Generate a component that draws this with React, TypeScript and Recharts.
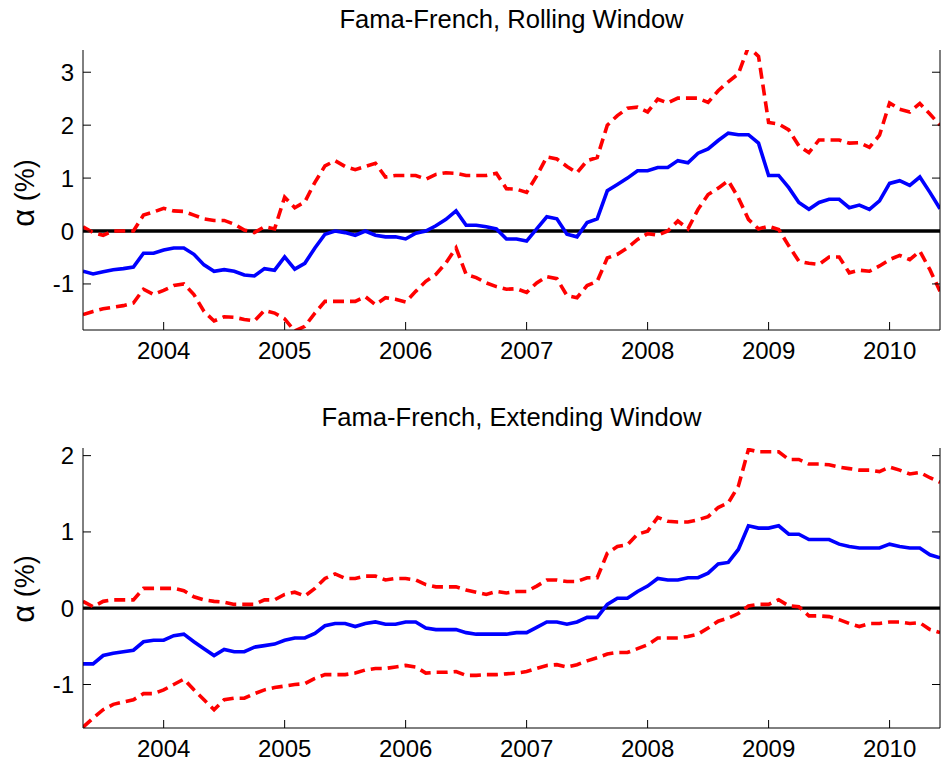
import React from 'react';
import { LineChart, Line, XAxis, YAxis, ReferenceLine } from 'recharts';

const FONT = '"Liberation Sans", Arial, Helvetica, sans-serif';

const months = [
  '2003-05', '2003-06', '2003-07', '2003-08', '2003-09', '2003-10', '2003-11', '2003-12',
  '2004-01', '2004-02', '2004-03', '2004-04', '2004-05', '2004-06', '2004-07', '2004-08', '2004-09', '2004-10', '2004-11', '2004-12',
  '2005-01', '2005-02', '2005-03', '2005-04', '2005-05', '2005-06', '2005-07', '2005-08', '2005-09', '2005-10', '2005-11', '2005-12',
  '2006-01', '2006-02', '2006-03', '2006-04', '2006-05', '2006-06', '2006-07', '2006-08', '2006-09', '2006-10', '2006-11', '2006-12',
  '2007-01', '2007-02', '2007-03', '2007-04', '2007-05', '2007-06', '2007-07', '2007-08', '2007-09', '2007-10', '2007-11', '2007-12',
  '2008-01', '2008-02', '2008-03', '2008-04', '2008-05', '2008-06', '2008-07', '2008-08', '2008-09', '2008-10', '2008-11', '2008-12',
  '2009-01', '2009-02', '2009-03', '2009-04', '2009-05', '2009-06', '2009-07', '2009-08', '2009-09', '2009-10', '2009-11', '2009-12',
  '2010-01', '2010-02', '2010-03', '2010-04', '2010-05', '2010-06',
];

// Rolling window: alpha estimate and confidence bounds (%)
const rollMid = [
  -0.76, -0.81, -0.77, -0.73, -0.71, -0.68, -0.42, -0.42,
  -0.36, -0.32, -0.32, -0.44, -0.64, -0.76, -0.73, -0.76, -0.83, -0.85, -0.71, -0.74,
  -0.49, -0.72, -0.61, -0.32, -0.06, 0.0, -0.03, -0.08, 0.0, -0.08, -0.11, -0.11,
  -0.15, -0.04, 0.0, 0.1, 0.22, 0.38, 0.11, 0.11, 0.08, 0.04, -0.15, -0.15,
  -0.19, 0.04, 0.27, 0.23, -0.06, -0.11, 0.16, 0.23, 0.76, 0.88, 1.0, 1.14,
  1.14, 1.2, 1.2, 1.33, 1.29, 1.47, 1.55, 1.71, 1.85, 1.82, 1.82, 1.66,
  1.05, 1.05, 0.82, 0.54, 0.41, 0.54, 0.6, 0.6, 0.44, 0.49, 0.41, 0.57,
  0.9, 0.95, 0.86, 1.02, 0.73, 0.42,
];
const rollHi = [
  0.08, -0.03, -0.08, 0.0, 0.0, 0.0, 0.3, 0.36,
  0.43, 0.38, 0.37, 0.3, 0.23, 0.2, 0.2, 0.13, 0.02, -0.03, 0.08, 0.04,
  0.64, 0.44, 0.55, 0.92, 1.23, 1.33, 1.22, 1.16, 1.22, 1.28, 1.02, 1.05,
  1.05, 1.05, 0.98, 1.07, 1.1, 1.09, 1.05, 1.05, 1.05, 1.09, 0.8, 0.79,
  0.73, 1.04, 1.4, 1.36, 1.22, 1.1, 1.33, 1.39, 2.0, 2.18, 2.32, 2.34,
  2.25, 2.49, 2.42, 2.51, 2.51, 2.51, 2.43, 2.65, 2.82, 2.97, 3.48, 3.3,
  2.05, 2.02, 1.91, 1.61, 1.48, 1.72, 1.72, 1.72, 1.66, 1.67, 1.58, 1.81,
  2.42, 2.3, 2.25, 2.41, 2.21, 2.0,
];
const rollLo = [
  -1.58, -1.52, -1.47, -1.44, -1.41, -1.36, -1.1, -1.2,
  -1.12, -1.03, -1.0, -1.2, -1.52, -1.7, -1.62, -1.63, -1.67, -1.7, -1.5, -1.55,
  -1.66, -1.89, -1.8, -1.55, -1.33, -1.33, -1.33, -1.33, -1.24, -1.39, -1.26, -1.29,
  -1.34, -1.14, -0.95, -0.82, -0.6, -0.32, -0.82, -0.88, -0.98, -1.05, -1.1, -1.09,
  -1.16, -0.98, -0.86, -0.9, -1.22, -1.26, -1.03, -0.95, -0.51, -0.44, -0.32, -0.16,
  -0.05, -0.08, 0.0, 0.19, 0.04, 0.41, 0.69, 0.81, 0.95, 0.63, 0.22, 0.04,
  0.09, 0.03, -0.28, -0.57, -0.61, -0.63, -0.49, -0.49, -0.79, -0.74, -0.76, -0.66,
  -0.54, -0.46, -0.54, -0.38, -0.73, -1.14,
];

// Extending window: alpha estimate and confidence bounds (%)
const extMid = [
  -0.73, -0.73, -0.62, -0.59, -0.57, -0.55, -0.44, -0.42,
  -0.42, -0.36, -0.34, -0.44, -0.53, -0.62, -0.54, -0.57, -0.57, -0.51, -0.49, -0.47,
  -0.42, -0.39, -0.39, -0.33, -0.23, -0.2, -0.2, -0.24, -0.2, -0.18, -0.21, -0.21,
  -0.18, -0.18, -0.26, -0.28, -0.28, -0.28, -0.32, -0.34, -0.34, -0.34, -0.34, -0.32,
  -0.32, -0.25, -0.18, -0.18, -0.21, -0.18, -0.12, -0.12, 0.05, 0.13, 0.13, 0.22,
  0.29, 0.39, 0.37, 0.37, 0.4, 0.4, 0.46, 0.58, 0.6, 0.77, 1.08, 1.05,
  1.05, 1.08, 0.97, 0.97, 0.9, 0.9, 0.9, 0.84, 0.81, 0.79, 0.79, 0.79,
  0.84, 0.81, 0.79, 0.79, 0.7, 0.66,
];
const extHi = [
  0.09, 0.02, 0.09, 0.11, 0.11, 0.11, 0.26, 0.26,
  0.26, 0.26, 0.23, 0.15, 0.11, 0.09, 0.08, 0.05, 0.05, 0.05, 0.11, 0.11,
  0.18, 0.21, 0.16, 0.26, 0.39, 0.45, 0.39, 0.39, 0.42, 0.42, 0.37, 0.39,
  0.39, 0.37, 0.31, 0.28, 0.28, 0.28, 0.24, 0.21, 0.18, 0.22, 0.2, 0.22,
  0.22, 0.29, 0.37, 0.37, 0.35, 0.35, 0.4, 0.4, 0.72, 0.81, 0.83, 0.97,
  1.01, 1.19, 1.14, 1.13, 1.13, 1.16, 1.2, 1.32, 1.38, 1.6, 2.08, 2.05,
  2.05, 2.05, 1.95, 1.95, 1.89, 1.89, 1.88, 1.85, 1.83, 1.81, 1.81, 1.79,
  1.85, 1.81, 1.76, 1.78, 1.71, 1.65,
];
const extLo = [
  -1.56, -1.44, -1.33, -1.26, -1.23, -1.2, -1.12, -1.12,
  -1.07, -1.0, -0.93, -1.07, -1.2, -1.33, -1.2, -1.18, -1.18, -1.12, -1.07, -1.04,
  -1.02, -1.0, -0.99, -0.92, -0.87, -0.87, -0.87, -0.85, -0.81, -0.79, -0.79, -0.77,
  -0.75, -0.77, -0.85, -0.84, -0.84, -0.83, -0.88, -0.88, -0.87, -0.87, -0.86, -0.85,
  -0.83, -0.79, -0.75, -0.74, -0.77, -0.74, -0.69, -0.65, -0.6, -0.58, -0.58, -0.53,
  -0.48, -0.39, -0.39, -0.39, -0.37, -0.34, -0.26, -0.17, -0.13, -0.07, 0.03, 0.05,
  0.05, 0.11, 0.03, 0.02, -0.1, -0.1, -0.11, -0.15, -0.2, -0.24, -0.2, -0.2,
  -0.18, -0.18, -0.2, -0.19, -0.28, -0.32,
];

const yearTicks = [2004, 2005, 2006, 2007, 2008, 2009, 2010];
const topYTicks = [-1, 0, 1, 2, 3];
const botYTicks = [-1, 0, 1, 2];
const xDomain: [number, number] = [2003 + 4 / 12, 2010 + 5 / 12];
const topDomain: [number, number] = [-1.87, 3.42];
const botDomain: [number, number] = [-1.57, 2.1];

const toT = (m: string) => {
  const [y, mo] = m.split('-').map(Number);
  return y + (mo - 1) / 12;
};

const rollData = months.map((m, i) => ({ t: toT(m), mid: rollMid[i], hi: rollHi[i], lo: rollLo[i] }));
const extData = months.map((m, i) => ({ t: toT(m), mid: extMid[i], hi: extHi[i], lo: extLo[i] }));

const TICK = 8;
const tickStyle = { fill: '#000', fontSize: 24, fontFamily: FONT };

function Panel({ data, domain, yTicks, marginTop, height, xAxisHeight }: any) {
  return (
    <LineChart
      width={941}
      height={height}
      data={data}
      margin={{ top: marginTop, right: 0, bottom: 0, left: 0 }}
    >
      <XAxis
        xAxisId="b"
        dataKey="t"
        type="number"
        domain={xDomain}
        ticks={yearTicks}
        interval={0}
        allowDataOverflow
        orientation="bottom"
        height={xAxisHeight}
        tickSize={-TICK}
        tickMargin={20}
        axisLine={{ stroke: '#000', strokeWidth: 1 }}
        tickLine={{ stroke: '#000', strokeWidth: 1 }}
        tick={tickStyle}
      />
      <XAxis
        xAxisId="t"
        dataKey="t"
        type="number"
        domain={xDomain}
        ticks={yearTicks}
        interval={0}
        allowDataOverflow
        orientation="top"
        height={0}
        tickSize={-TICK}
        tickFormatter={() => ''}
        axisLine={{ stroke: '#000', strokeWidth: 1 }}
        tickLine={{ stroke: '#000', strokeWidth: 1 }}
      />
      <YAxis
        yAxisId="l"
        type="number"
        domain={domain}
        ticks={yTicks}
        interval={0}
        allowDataOverflow
        width={83}
        tickSize={-TICK}
        tickMargin={17}
        axisLine={{ stroke: '#000', strokeWidth: 1 }}
        tickLine={{ stroke: '#000', strokeWidth: 1 }}
        tick={tickStyle}
      />
      <YAxis
        yAxisId="r"
        orientation="right"
        type="number"
        domain={domain}
        ticks={yTicks}
        interval={0}
        allowDataOverflow
        width={1}
        tickSize={-TICK}
        tickFormatter={() => ''}
        axisLine={{ stroke: '#000', strokeWidth: 1 }}
        tickLine={{ stroke: '#000', strokeWidth: 1 }}
      />
      <ReferenceLine xAxisId="b" yAxisId="l" y={0} stroke="#000" strokeWidth={3.3} />
      <Line
        xAxisId="b"
        yAxisId="l"
        dataKey="hi"
        stroke="#ff0000"
        strokeWidth={3.6}
        strokeDasharray="11 6"
        dot={false}
        activeDot={false}
        isAnimationActive={false}
      />
      <Line
        xAxisId="b"
        yAxisId="l"
        dataKey="lo"
        stroke="#ff0000"
        strokeWidth={3.6}
        strokeDasharray="11 6"
        dot={false}
        activeDot={false}
        isAnimationActive={false}
      />
      <Line
        xAxisId="b"
        yAxisId="l"
        dataKey="mid"
        stroke="#0000ff"
        strokeWidth={3.6}
        dot={false}
        activeDot={false}
        isAnimationActive={false}
      />
    </LineChart>
  );
}

export default function App() {
  return (
    <div style={{ position: 'absolute', left: 0, top: 0, width: 941, height: 766, background: '#fff' }}>
      <div style={{ position: 'absolute', left: 0, top: 0 }}>
        <Panel data={rollData} domain={topDomain} yTicks={topYTicks} marginTop={50} height={390} xAxisHeight={60} />
      </div>
      <div style={{ position: 'absolute', left: 0, top: 0 }}>
        <Panel data={extData} domain={botDomain} yTicks={botYTicks} marginTop={448} height={766} xAxisHeight={38} />
      </div>
      <svg
        width={941}
        height={766}
        style={{ position: 'absolute', left: 0, top: 0, pointerEvents: 'none' }}
      >
        <text x={511.5} y={28} textAnchor="middle" fontFamily={FONT} fontSize={25.6} fill="#000">
          Fama-French, Rolling Window
        </text>
        <text x={511.5} y={426} textAnchor="middle" fontFamily={FONT} fontSize={25.6} fill="#000">
          Fama-French, Extending Window
        </text>
        <text
          x={0}
          y={0}
          transform="translate(34,193) rotate(-90)"
          textAnchor="middle"
          fontFamily={FONT}
          fontSize={27}
          fill="#000"
        >
          <tspan fontSize={31}>α</tspan> (%)
        </text>
        <text
          x={0}
          y={0}
          transform="translate(34,589) rotate(-90)"
          textAnchor="middle"
          fontFamily={FONT}
          fontSize={27}
          fill="#000"
        >
          <tspan fontSize={31}>α</tspan> (%)
        </text>
      </svg>
    </div>
  );
}
